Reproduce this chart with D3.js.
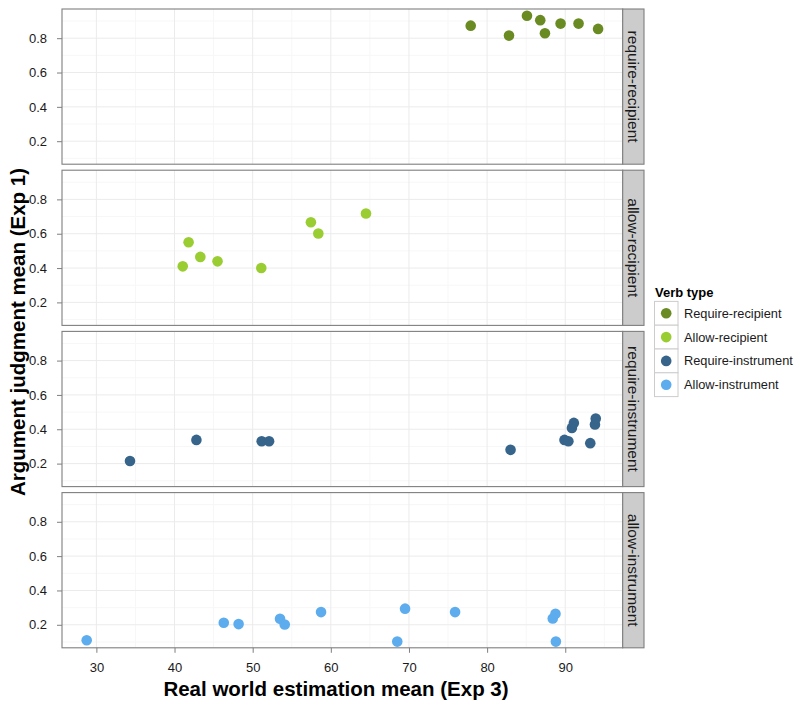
<!DOCTYPE html>
<html>
<head>
<meta charset="utf-8">
<script src="https://cdn.jsdelivr.net/npm/d3@7"></script>
<style>
  body { margin: 0; background: #fff; }
  text { font-family: "Liberation Sans", Arial, sans-serif; }
</style>
</head>
<body>
<svg id="chart" width="800" height="706"></svg>
<script>
// ---- Data ----
const facets = ["require-recipient", "allow-recipient", "require-instrument", "allow-instrument"];
const legendLabels = ["Require-recipient", "Allow-recipient", "Require-instrument", "Allow-instrument"];
const colors = ["#698B22", "#9ACD32", "#36648B", "#5CACEE"];

const requireRecipientX = [77.9, 82.8, 85.1, 86.8, 87.4, 89.4, 91.7, 94.2];
const requireRecipientY = [0.873, 0.815, 0.931, 0.905, 0.829, 0.885, 0.885, 0.854];

const allowRecipientX = [41.05, 41.8, 43.3, 45.5, 51.1, 57.45, 58.4, 64.5];
const allowRecipientY = [0.410, 0.550, 0.465, 0.439, 0.400, 0.667, 0.601, 0.718];

const requireInstrumentX = [34.3, 42.8, 51.15, 52.1, 83.0, 89.9, 90.4, 90.85, 91.1, 93.2, 93.8, 93.9];
const requireInstrumentY = [0.215, 0.338, 0.330, 0.330, 0.280, 0.338, 0.330, 0.408, 0.437, 0.319, 0.428, 0.463];

const allowInstrumentX = [28.76, 46.3, 48.2, 53.5, 54.1, 58.75, 68.5, 69.5, 75.9, 88.4, 88.75, 88.8];
const allowInstrumentY = [0.110, 0.212, 0.204, 0.235, 0.202, 0.274, 0.102, 0.294, 0.274, 0.237, 0.264, 0.102];

const xTicks = [30, 40, 50, 60, 70, 80, 90];
const xMinor = [25, 35, 45, 55, 65, 75, 85, 95];
const yTicks = [0.2, 0.4, 0.6, 0.8];
const yMinor = [0.1, 0.3, 0.5, 0.7, 0.9];

const seriesX = [requireRecipientX, allowRecipientX, requireInstrumentX, allowInstrumentX];
const seriesY = [requireRecipientY, allowRecipientY, requireInstrumentY, allowInstrumentY];

// ---- Layout ----
const svg = d3.select("#chart");
const left = 62, right = 622.7, stripW = 21.3;
const panelTop0 = 9, panelH = 155.2, panelStep = 161.2;

const x = d3.scaleLinear().domain([25.6, 97.35]).range([left, right]);
const yBase = d3.scaleLinear().domain([0.066, 0.970]).range([panelH, 0]);

facets.forEach((f, i) => {
  const top = panelTop0 + i * panelStep;
  const g = svg.append("g").attr("transform", `translate(0,${top})`);

  g.append("rect").attr("x", left).attr("y", 0).attr("width", right - left).attr("height", panelH).attr("fill", "#fff");

  // minor grid
  g.selectAll(".xminor").data(xMinor.filter(v => x(v) > left && x(v) < right)).enter().append("line")
    .attr("x1", d => x(d)).attr("x2", d => x(d)).attr("y1", 0).attr("y2", panelH)
    .attr("stroke", "#f7f7f7").attr("stroke-width", 1);
  g.selectAll(".yminor").data(yMinor).enter().append("line")
    .attr("x1", left).attr("x2", right).attr("y1", d => yBase(d)).attr("y2", d => yBase(d))
    .attr("stroke", "#f7f7f7").attr("stroke-width", 1);
  // major grid
  g.selectAll(".xmajor").data(xTicks).enter().append("line")
    .attr("x1", d => x(d)).attr("x2", d => x(d)).attr("y1", 0).attr("y2", panelH)
    .attr("stroke", "#ebebeb").attr("stroke-width", 1);
  g.selectAll(".ymajor").data(yTicks).enter().append("line")
    .attr("x1", left).attr("x2", right).attr("y1", d => yBase(d)).attr("y2", d => yBase(d))
    .attr("stroke", "#ebebeb").attr("stroke-width", 1);

  // points
  const pts = seriesX[i].map((v, k) => ({ x: v, y: seriesY[i][k] }));
  g.selectAll("circle").data(pts).enter().append("circle")
    .attr("cx", d => x(d.x)).attr("cy", d => yBase(d.y)).attr("r", 5.3)
    .attr("fill", colors[i]);

  // border
  g.append("rect").attr("x", left).attr("y", 0).attr("width", right - left).attr("height", panelH)
    .attr("fill", "none").attr("stroke", "#7f7f7f").attr("stroke-width", 1.1);

  // y axis
  const yAxis = d3.axisLeft(yBase).tickValues(yTicks).tickFormat(d3.format(".1f")).tickSize(5).tickPadding(10);
  const ya = g.append("g").attr("transform", `translate(${left},0)`).call(yAxis);
  ya.select(".domain").remove();
  ya.selectAll(".tick line").attr("stroke", "#7f7f7f");
  ya.selectAll(".tick text").attr("font-size", "13px").attr("fill", "#1a1a1a")
    .attr("font-family", "'Liberation Sans', Arial, sans-serif");

  // strip
  g.append("rect").attr("x", right).attr("y", 0).attr("width", stripW).attr("height", panelH)
    .attr("fill", "#cccccc").attr("stroke", "#7f7f7f").attr("stroke-width", 1.1);
  g.append("text")
    .attr("transform", `translate(${right + stripW / 2},${panelH / 2}) rotate(90)`)
    .attr("text-anchor", "middle").attr("dy", "0.35em")
    .attr("font-size", "15.5px").attr("fill", "#1a1a1a")
    .text(f);
});

// x axis
const lastBottom = panelTop0 + 3 * panelStep + panelH;
const xAxis = d3.axisBottom(x).tickValues(xTicks).tickSize(5).tickPadding(10);
const xa = svg.append("g").attr("transform", `translate(0,${lastBottom})`).call(xAxis);
xa.select(".domain").remove();
xa.selectAll(".tick line").attr("stroke", "#7f7f7f");
xa.selectAll(".tick text").attr("font-size", "13px").attr("fill", "#1a1a1a")
  .attr("font-family", "'Liberation Sans', Arial, sans-serif");

// axis titles
svg.append("text").attr("x", 336).attr("y", 696)
  .attr("text-anchor", "middle").attr("font-size", "20.5px").attr("font-weight", "bold").attr("fill", "#000")
  .text("Real world estimation mean (Exp 3)");
svg.append("text").attr("transform", "translate(25,332) rotate(-90)")
  .attr("text-anchor", "middle").attr("font-size", "20.5px").attr("font-weight", "bold").attr("fill", "#000")
  .text("Argument judgment mean (Exp 1)");

// legend
const lg = svg.append("g");
lg.append("text").attr("x", 655).attr("y", 297).attr("font-size", "13px").attr("font-weight", "bold")
  .attr("fill", "#000").text("Verb type");
legendLabels.forEach((lab, i) => {
  const cy = 313.3 + i * 23.8;
  lg.append("rect").attr("x", 654.5).attr("y", cy - 11.9).attr("width", 23.5).attr("height", 23.8)
    .attr("fill", "#fff").attr("stroke", "#cccccc").attr("stroke-width", 1);
  lg.append("circle").attr("cx", 666.2).attr("cy", cy).attr("r", 5.3).attr("fill", colors[i]);
  lg.append("text").attr("x", 684).attr("y", cy).attr("dy", "0.35em").attr("font-size", "12.8px")
    .attr("fill", "#1a1a1a").text(lab);
});
</script>
</body>
</html>
